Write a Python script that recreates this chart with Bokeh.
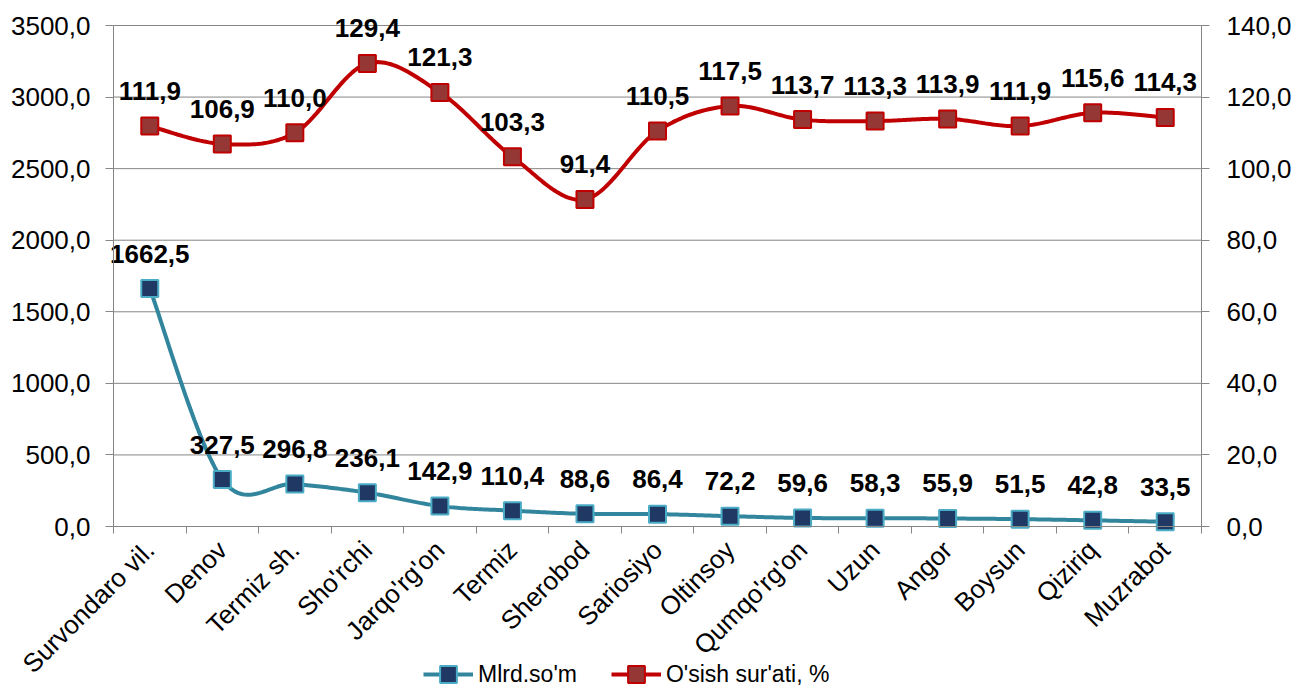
import numpy as np
from bokeh.plotting import figure
from bokeh.models import (Range1d, LinearAxis, FixedTicker, ColumnDataSource,
                          Legend, LegendItem, CustomJSTickFormatter)
from bokeh.core.properties import value
from bokeh.embed import file_html
from bokeh.resources import INLINE

categories = ["Survondaro vil.", "Denov", "Termiz sh.", "Sho'rchi", "Jarqo'rg'on",
              "Termiz", "Sherobod", "Sariosiyo", "Oltinsoy", "Qumqo'rg'on", "Uzun",
              "Angor", "Boysun", "Qiziriq", "Muzrabot"]
mlrd = [1662.5, 327.5, 296.8, 236.1, 142.9, 110.4, 88.6, 86.4, 72.2, 59.6, 58.3,
        55.9, 51.5, 42.8, 33.5]
osish = [111.9, 106.9, 110.0, 129.4, 121.3, 103.3, 91.4, 110.5, 117.5, 113.7,
         113.3, 113.9, 111.9, 115.6, 114.3]
left_ticks = [0, 500, 1000, 1500, 2000, 2500, 3000, 3500]
right_ticks = [0, 20, 40, 60, 80, 100, 120, 140]

FONT = "Liberation Sans"
TICK_FS = "26px"
CAT_FS = "26px"
LAB_FS = "26px"
LEG_FS = "23px"
GRID = "#868686"

# layout geometry (pixels): canvas W x H; plot box from (113, 25) to (1201, 526)
W, H = 1304, 688
LEFT_PX, RIGHT_PX, TOP_PX, ZERO_PX = 113, 1201, 25, 526
LEFT_MAX, RIGHT_MAX = left_ticks[-1], right_ticks[-1]
n = len(categories)
x_lo, x_hi = -0.5, n - 0.5
xs = (RIGHT_PX - LEFT_PX) / (x_hi - x_lo)
x_rng = (x_lo - LEFT_PX / xs, x_hi + (W - RIGHT_PX) / xs)
span = ZERO_PX - TOP_PX
left_rng = (-LEFT_MAX * (H - ZERO_PX) / span, LEFT_MAX * ZERO_PX / span)
right_rng = (-RIGHT_MAX * (H - ZERO_PX) / span, RIGHT_MAX * ZERO_PX / span)


def smooth(xs_, ys_, n_=30):
    xs_ = np.asarray(xs_, float)
    ys_ = np.asarray(ys_, float)
    px = np.concatenate([[xs_[0]], xs_, [xs_[-1]]])
    py = np.concatenate([[ys_[0]], ys_, [ys_[-1]]])
    ox, oy = [], []
    t = np.linspace(0, 1, n_)
    for i in range(1, len(px) - 2):
        p0x, p1x, p2x, p3x = px[i - 1], px[i], px[i + 1], px[i + 2]
        p0y, p1y, p2y, p3y = py[i - 1], py[i], py[i + 1], py[i + 2]
        c1x = p1x + (p2x - p0x) / 6
        c1y = p1y + (p2y - p0y) / 6
        c2x = p2x - (p3x - p1x) / 6
        c2y = p2y - (p3y - p1y) / 6
        bx = (1 - t) ** 3 * p1x + 3 * (1 - t) ** 2 * t * c1x + 3 * (1 - t) * t ** 2 * c2x + t ** 3 * p2x
        by = (1 - t) ** 3 * p1y + 3 * (1 - t) ** 2 * t * c1y + 3 * (1 - t) * t ** 2 * c2y + t ** 3 * p2y
        ox.extend(bx.tolist())
        oy.extend(by.tolist())
    return ox, oy


xi = list(range(n))

p = figure(width=W, height=H, output_backend="svg", toolbar_location=None,
           x_range=Range1d(*x_rng), y_range=Range1d(*left_rng),
           min_border_left=0, min_border_right=0, min_border_top=0, min_border_bottom=0)
p.extra_y_ranges = {"right": Range1d(*right_rng)}
p.outline_line_color = None
p.background_fill_color = "white"
p.border_fill_color = "white"
p.xgrid.grid_line_color = None
p.ygrid.grid_line_color = None

fmt = "return tick.toFixed(1).replace('.', ',');"

# horizontal gridlines across the plot box only
p.segment(x0=[x_lo] * len(left_ticks), x1=[x_hi] * len(left_ticks), y0=left_ticks,
          y1=left_ticks, line_color=GRID, line_width=1)

# left axis
ya = p.yaxis[0]
ya.fixed_location = x_lo
ya.ticker = FixedTicker(ticks=left_ticks)
ya.bounds = (0, LEFT_MAX)
ya.formatter = CustomJSTickFormatter(code=fmt)
ya.axis_line_color = GRID
ya.major_tick_line_color = GRID
ya.major_tick_out = 8
ya.major_tick_in = 0
ya.minor_tick_line_color = None
ya.major_label_text_font = FONT
ya.major_label_text_font_size = TICK_FS
ya.major_label_text_color = "black"
ya.major_label_standoff = 15

# right axis
ra = LinearAxis(y_range_name="right")
ra.fixed_location = x_hi
ra.ticker = FixedTicker(ticks=right_ticks)
ra.bounds = (0, RIGHT_MAX)
ra.formatter = CustomJSTickFormatter(code=fmt)
ra.axis_line_color = GRID
ra.major_tick_line_color = GRID
ra.major_tick_out = 8
ra.major_tick_in = 0
ra.minor_tick_line_color = None
ra.major_label_text_font = FONT
ra.major_label_text_font_size = TICK_FS
ra.major_label_text_color = "black"
ra.major_label_standoff = 17
p.add_layout(ra, "right")

# x axis (drawn at the zero line)
xa = p.xaxis[0]
xa.fixed_location = 0
xa.bounds = (x_lo, x_hi)
xa.ticker = FixedTicker(ticks=xi, minor_ticks=[i - 0.5 for i in range(n + 1)])
xa.major_label_overrides = {i: c for i, c in enumerate(categories)}
xa.major_label_orientation = np.pi / 4
xa.major_label_text_font = FONT
xa.major_label_text_font_size = CAT_FS
xa.major_label_text_color = "black"
xa.axis_line_color = GRID
xa.major_tick_line_color = None
xa.major_tick_out = 7
xa.minor_tick_line_color = GRID
xa.minor_tick_out = 7
xa.minor_tick_in = 0
xa.major_label_standoff = 12

# blue series
bx, by = smooth(xi, mlrd)
bl = p.line(bx, by, line_color="#31859C", line_width=4)
src_b = ColumnDataSource(dict(x=xi, y=mlrd, lab=[f"{v:.1f}".replace('.', ',') for v in mlrd]))
bm = p.scatter("x", "y", source=src_b, marker="square", size=17, fill_color="#1F3864",
               line_color="#4BACC6", line_width=2)
p.text("x", "y", text="lab", source=src_b, text_font=value(FONT), text_font_style="bold",
       text_font_size=LAB_FS, text_align="center", text_baseline="middle", y_offset=-35,
       text_color="black")

# red series
rx, ry = smooth(xi, osish)
rl = p.line(rx, ry, line_color="#C00000", line_width=4, y_range_name="right")
src_r = ColumnDataSource(dict(x=xi, y=osish, lab=[f"{v:.1f}".replace('.', ',') for v in osish]))
rm = p.scatter("x", "y", source=src_r, marker="square", size=17, fill_color="#953735",
               line_color="#C00000", line_width=2, y_range_name="right")
p.text("x", "y", text="lab", source=src_r, text_font=value(FONT), text_font_style="bold",
       text_font_size=LAB_FS, text_align="center", text_baseline="middle", y_offset=-35,
       text_color="black", y_range_name="right")

legend = Legend(items=[LegendItem(label="Mlrd.so'm", renderers=[bl, bm]),
                       LegendItem(label="O'sish sur'ati, %", renderers=[rl, rm])],
                orientation="horizontal", location=(423, -7),
                label_text_font=FONT, label_text_font_size=LEG_FS, label_text_color="black",
                label_standoff=5, label_height=42,
                glyph_width=50, glyph_height=42, spacing=34, padding=0, margin=0,
                border_line_color=None, background_fill_alpha=0)
p.add_layout(legend, "center")

open("out.html", "w").write(file_html(p, INLINE))
